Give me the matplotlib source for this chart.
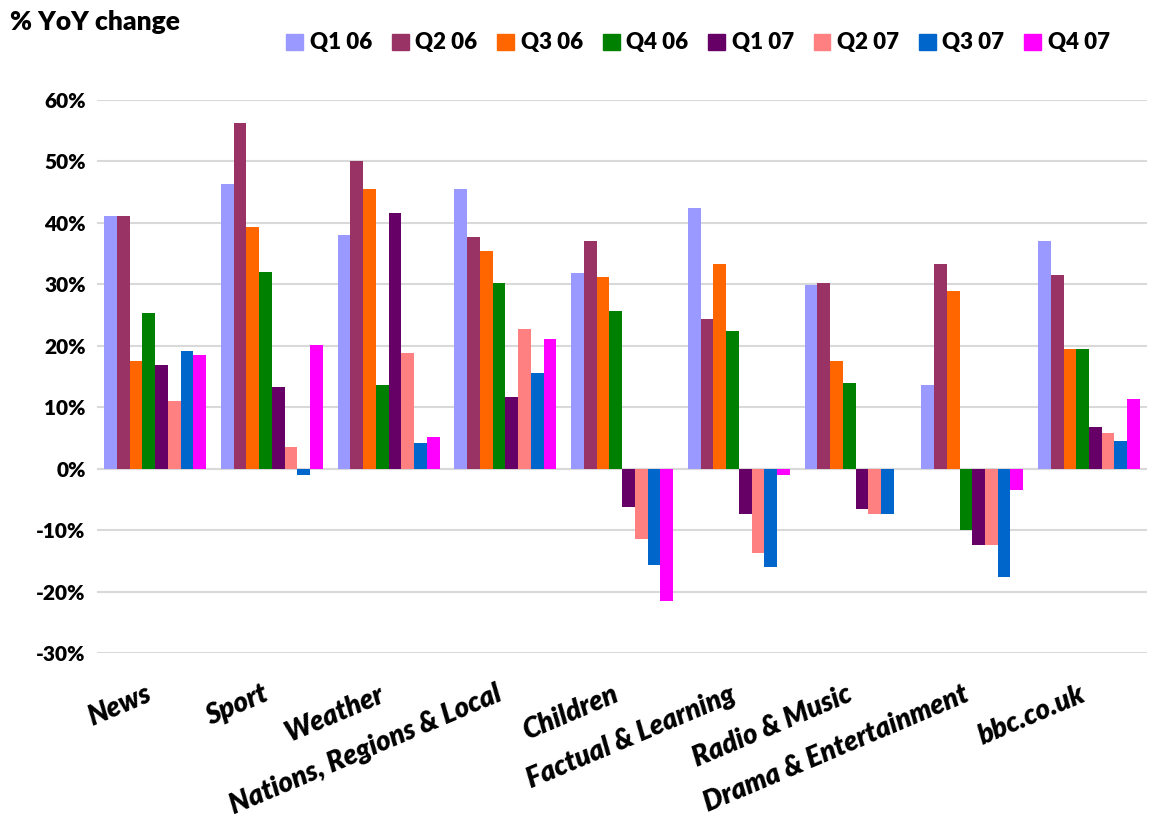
import numpy as np
import matplotlib
matplotlib.use("Agg")
import matplotlib.pyplot as plt
import matplotlib.transforms as mtransforms
from matplotlib.patches import Patch

plt.rcParams['font.family'] = ['Lato', 'DejaVu Sans']

categories = ['News', 'Sport', 'Weather', 'Nations, Regions & Local', 'Children',
              'Factual & Learning', 'Radio & Music', 'Drama & Entertainment', 'bbc.co.uk']
series = ['Q1 06', 'Q2 06', 'Q3 06', 'Q4 06', 'Q1 07', 'Q2 07', 'Q3 07', 'Q4 07']

q1_06 = [41.2, 46.4, 38.0, 45.5, 31.8, 42.5, 29.9, 13.6, 37.0]
q2_06 = [41.2, 56.2, 50.0, 37.7, 37.0, 24.4, 30.2, 33.4, 31.5]
q3_06 = [17.5, 39.3, 45.5, 35.4, 31.2, 33.4, 17.5, 28.9, 19.5]
q4_06 = [25.3, 32.1, 13.6, 30.2, 25.6, 22.4, 14.0, -10.0, 19.5]
q1_07 = [16.9, 13.3, 41.6, 11.7, -6.2, -7.3, -6.6, -12.4, 6.8]
q2_07 = [11.0, 3.6, 18.8, 22.7, -11.4, -13.7, -7.4, -12.4, 5.8]
q3_07 = [19.2, -1.0, 4.2, 15.6, -15.7, -15.9, -7.4, -17.6, 4.5]
q4_07 = [18.5, 20.1, 5.2, 21.1, -21.5, -1.0, 0.0, -3.4, 11.4]

values = [q1_06, q2_06, q3_06, q4_06, q1_07, q2_07, q3_07, q4_07]
colors = ['#9999ff', '#993366', '#ff6600', '#008000', '#660066', '#ff8080', '#0066cc', '#ff00ff']

fig = plt.figure(figsize=(11.52, 8.26), dpi=100)
ax = fig.add_axes([0.084, 0.209, 0.912, 0.67])

x = np.arange(len(categories))
w = 0.109
for i, (vals, c) in enumerate(zip(values, colors)):
    ax.bar(x + (i - 3.5) * w, vals, width=w, color=c, zorder=3)

ax.set_xlim(-0.5, len(categories) - 0.5)
ax.set_ylim(-30, 60)
ax.set_yticks(range(-30, 61, 10))
ax.set_yticklabels([f'{v}%' for v in range(-30, 61, 10)], fontsize=15, fontweight='heavy')
ax.grid(axis='y', color='#d9d9d9', linewidth=1.5, zorder=0)
ax.axhline(0, color='#d9d9d9', linewidth=1.5, zorder=1)
for s in ax.spines.values():
    s.set_visible(False)
ax.tick_params(axis='y', length=0, pad=8)
ax.tick_params(axis='x', length=0, pad=20)

ax.set_xticks(x)
ax.set_xticklabels(categories, rotation=23, ha='right', va='top', rotation_mode='anchor',
                   fontsize=20, fontweight='heavy', fontstyle='italic')
shift = mtransforms.ScaledTranslation(-0.1, 0, fig.dpi_scale_trans)
for lbl in ax.get_xticklabels():
    lbl.set_transform(lbl.get_transform() + shift)

fig.text(0.009, 0.973, '% YoY change', fontsize=19, fontweight='heavy', va='center')

handles = [Patch(color=c) for c in colors]
fig.legend(handles, series, loc='center', bbox_to_anchor=(0.606, 0.948), ncol=8,
           frameon=False, handlelength=0.75, handleheight=0.75, handletextpad=0.3,
           columnspacing=0.9, prop={'size': 16, 'weight': 'heavy'})

fig.savefig('out.png', dpi=100)
